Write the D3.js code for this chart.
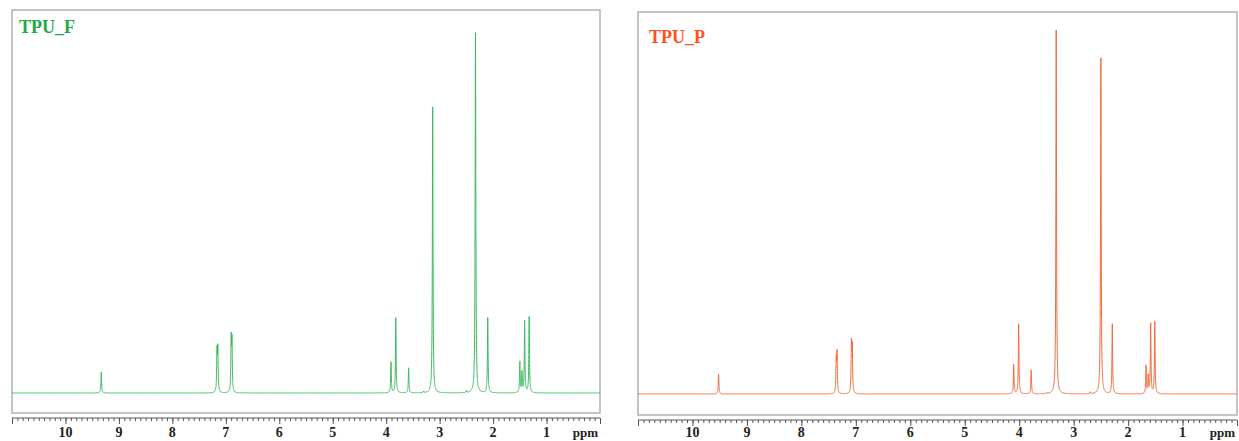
<!DOCTYPE html>
<html>
  <head>
    <style>
      body,
      html {
        margin: 0;
        padding: 0;
        background: #fff;
        overflow: hidden;
      }
    </style>
    <script src="https://d3js.org/d3.v7.min.js"></script>
    <title>TPU 1H NMR</title>
  </head>

  <body>
    <svg id="nmr" width="1239" height="441"></svg>

    <script>
      // peak lists (ppm, relative height, tallest = 100)
      var fPpm = [9.33, 7.165, 7.15, 6.9, 6.885, 3.91, 3.82, 3.58, 3.13, 2.5, 2.33, 2.322, 2.1, 1.5, 1.46, 1.41, 1.325, 3.3];
      var fHeight = [5.8, 11.0, 11.6, 14.3, 13.6, 8.5, 20.7, 6.9, 78.8, 0.6, 94, 12, 20.7, 8.5, 5.5, 19.8, 20.9, 0.4];

      var pPpm = [9.52, 7.36, 7.345, 7.08, 7.065, 4.1, 4.01, 3.78, 3.32, 2.5, 2.29, 1.67, 1.63, 1.585, 1.51, 2.7, 3.5];
      var pHeight = [5.5, 8.8, 10.7, 13.2, 12.1, 8.0, 19.2, 6.6, 100, 92.3, 19.2, 7.7, 4.8, 19.2, 19.8, 0.5, 0.3];

      var ppmTicks = [10, 9, 8, 7, 6, 5, 4, 3, 2, 1];
      var ppmDomain = [11, 0];

      var svg = d3.select("#nmr");

      var panels = [
        { name: "TPU_F", ppm: fPpm, h: fHeight, x0: 12, x1: 600, top: 10, bottom: 413, base: 393,
          line: "#3dba5e", title: "#1faa46", tx: 19, ty: 33 },
        { name: "TPU_P", ppm: pPpm, h: pHeight, x0: 638, x1: 1237, top: 12, bottom: 415, base: 394,
          line: "#f4693c", title: "#ff5220", tx: 649, ty: 43 },
      ];

      var hw = 0.007; // lorentzian half width in ppm

      panels.forEach(function (p) {
        var x = d3.scaleLinear().domain(ppmDomain).range([p.x0, p.x1]);
        var y = d3.scaleLinear().domain([0, 100]).range([p.base, 30]);

        // frame
        svg
          .append("rect")
          .attr("x", p.x0)
          .attr("y", p.top)
          .attr("width", p.x1 - p.x0)
          .attr("height", p.bottom - p.top)
          .attr("fill", "none")
          .attr("stroke", "#b3b3b3")
          .attr("stroke-width", 1.5);

        // spectrum trace built from the peak list
        var pts = d3.range(0, 11.0005, 0.001).map(function (v) {
          var s = 0;
          for (var i = 0; i < p.ppm.length; i++) {
            var d = (v - p.ppm[i]) / hw;
            s += p.h[i] / (1 + d * d);
          }
          return [v, s];
        });

        var line = d3
          .line()
          .x(function (d) { return x(d[0]); })
          .y(function (d) { return y(d[1]); });

        svg
          .append("path")
          .datum(pts)
          .attr("d", line)
          .attr("fill", "none")
          .attr("stroke", p.line)
          .attr("stroke-width", 1);

        svg
          .append("text")
          .attr("x", p.tx)
          .attr("y", p.ty)
          .attr("fill", p.title)
          .style("font-family", "'Liberation Serif', 'Times New Roman', serif")
          .style("font-weight", "bold")
          .style("font-size", "18px")
          .text(p.name);

        // ppm axis under the frame
        var axisY = p.bottom + 5;
        var minor = d3.range(0, 110).map(function (i) { return i / 10; });
        var ax = d3
          .axisBottom(x)
          .tickValues(minor)
          .tickSize(3)
          .tickFormat("");
        var g = svg.append("g").attr("transform", "translate(0," + axisY + ")").call(ax);
        g.select(".domain").attr("stroke", "#555").attr("d", "M" + p.x0 + ",0H" + p.x1);
        g.selectAll(".tick line").attr("stroke", "#555");

        var major = d3
          .axisBottom(x)
          .tickValues(ppmTicks.concat([11, 0]))
          .tickSize(6)
          .tickFormat("");
        var g2 = svg.append("g").attr("transform", "translate(0," + axisY + ")").call(major);
        g2.select(".domain").remove();
        g2.selectAll(".tick line").attr("stroke", "#555");

        var labY = Math.min(axisY + 19, 437);

        svg
          .selectAll(null)
          .data(ppmTicks)
          .enter()
          .append("text")
          .attr("x", function (d) { return x(d); })
          .attr("y", labY)
          .attr("text-anchor", "middle")
          .style("font-family", "'Liberation Serif', 'Times New Roman', serif")
          .style("font-weight", "bold")
          .style("font-size", "14px")
          .attr("fill", "#222")
          .text(function (d) { return d; });

        svg
          .append("text")
          .attr("x", p.x1 - 2)
          .attr("y", labY)
          .attr("text-anchor", "end")
          .style("font-family", "'Liberation Serif', 'Times New Roman', serif")
          .style("font-weight", "bold")
          .style("font-size", "13px")
          .attr("fill", "#222")
          .text("ppm");
      });
    </script>
  </body>
</html>
